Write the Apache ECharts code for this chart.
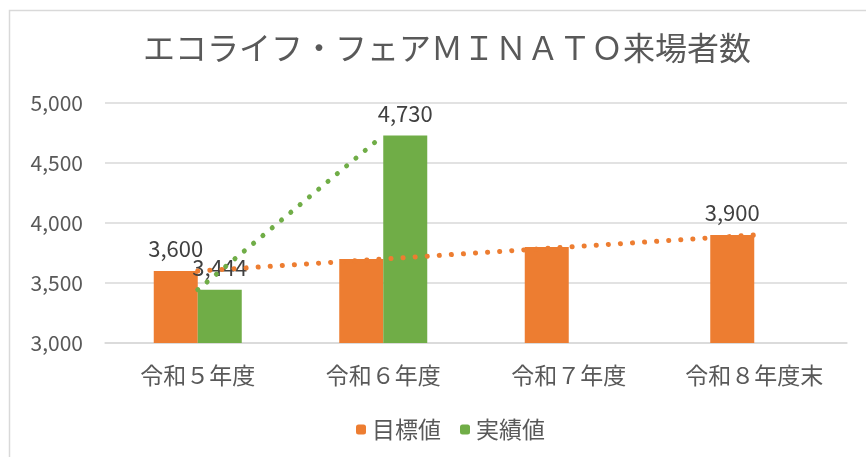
<!DOCTYPE html>
<html>
<head>
<meta charset="utf-8">
<script src="https://cdn.jsdelivr.net/npm/echarts@6/dist/echarts.min.js"></script>
<style>
html,body{margin:0;padding:0;background:#fff;}
#main{width:866px;height:457px;}
</style>
</head>
<body>
<div id="main"></div>
<script>
/*データ*/
var categories = ['令和５年度', '令和６年度', '令和７年度', '令和８年度末'];
var targetVals = [3600, 3700, 3800, 3900];
var actualVals = [3444, 4730, '-', '-'];
var targetLabelShow = [true, false, false, true];
var actualLabelShow = [true, true, false, false];
var yTicks = [3000, 3500, 4000, 4500, 5000];

var FONT = '"Noto Sans CJK JP", "Noto Sans", sans-serif';
var ORANGE = '#ED7D31', GREEN = '#70AD47';

function fmt(v) {
    return String(v).replace(/\B(?=(\d{3})+(?!\d))/g, ',');
}
function withLabels(vals, shows) {
    return vals.map(function (v, i) {
        return {value: v, label: {show: shows[i]}};
    });
}

var chart = echarts.init(document.getElementById('main'));
chart.setOption({
    backgroundColor: '#fff',
    animation: false,
    textStyle: {fontFamily: FONT},
    title: {
        text: 'エコライフ・フェアＭＩＮＡＴＯ来場者数',
        left: 138, top: 27,
        textStyle: {fontFamily: FONT, fontSize: 32, fontWeight: 'normal', color: '#595959'}
    },
    graphic: [{
        type: 'rect', left: 7, top: 8, silent: true,
        shape: {width: 900, height: 500},
        style: {fill: 'none', stroke: '#d9d9d9', lineWidth: 1.5}
    }],
    legend: {
        data: ['目標値', '実績値'],
        top: 413, left: 351,
        itemWidth: 10, itemHeight: 10, itemGap: 19,
        textStyle: {fontFamily: FONT, fontSize: 23, color: '#595959', padding: [0, 0, 0, 1]}
    },
    grid: {left: 105, right: 19, top: 103, bottom: 114, containLabel: false},
    xAxis: {
        type: 'category', data: categories,
        axisLine: {lineStyle: {color: '#d9d9d9', width: 1.5}},
        axisTick: {show: false},
        axisLabel: {fontFamily: FONT, fontSize: 23, color: '#595959', margin: 21}
    },
    yAxis: {
        type: 'value', min: yTicks[0], max: yTicks[yTicks.length - 1], interval: 500,
        axisLine: {show: false}, axisTick: {show: false},
        splitLine: {lineStyle: {color: '#d9d9d9', width: 1.5}},
        axisLabel: {fontFamily: FONT, fontSize: 21, color: '#595959', margin: 22, formatter: fmt}
    },
    series: [{
        name: '目標値', type: 'bar', barWidth: 44, barGap: '0%',
        itemStyle: {color: ORANGE},
        label: {position: 'top', distance: 11, fontFamily: FONT, fontSize: 22, color: '#404040',
            formatter: function (p) { return fmt(p.value); }},
        data: withLabels(targetVals, targetLabelShow)
    }, {
        name: '実績値', type: 'bar', barWidth: 44,
        itemStyle: {color: GREEN},
        label: {position: 'top', distance: 11, fontFamily: FONT, fontSize: 22, color: '#404040',
            formatter: function (p) { return fmt(p.value); }},
        data: withLabels(actualVals, actualLabelShow)
    }, {
        name: '目標値トレンド', type: 'line', symbol: 'none', z: 5,
        lineStyle: {color: ORANGE, width: 5, type: [0.1, 12], cap: 'round'},
        data: targetVals
    }, {
        name: '実績値トレンド', type: 'line', symbol: 'none', z: 5,
        lineStyle: {color: GREEN, width: 5, type: [0.1, 12], cap: 'round'},
        data: actualVals
    }]
});
</script>
</body>
</html>
